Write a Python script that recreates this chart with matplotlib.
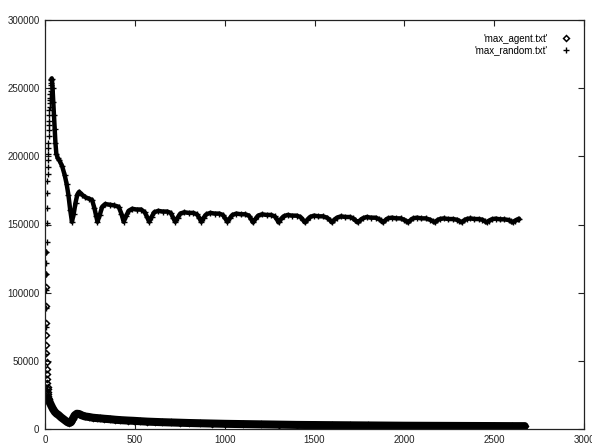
#!/usr/bin/env python3
"""
Max value per step: agent vs random (gnuplot-style point plot).
"""

import matplotlib
matplotlib.use("Agg")
import matplotlib.pyplot as plt

# ── Data (y values in thousands) ─────────────────────────────────────────────

# 'max_random.txt' : fast rise, peak ~257k, damped oscillation around ~154k
RANDOM_X = [
    1, 2, 3, 4, 5, 6, 7, 8, 9, 10, 11, 12, 13, 14, 15, 16, 17, 18, 19, 20,
    21, 22, 23, 24, 25, 26, 27, 28, 29, 30, 31, 32, 33, 34, 35, 36,
    38, 42, 46, 50, 54, 58, 63, 70, 80, 95, 110, 120, 130, 140, 150,
    160, 170, 180, 190, 205, 225, 243, 262, 275, 285, 292,
    305, 318, 335, 360, 385, 410, 425, 438,
    451, 465, 485, 510, 535, 555, 568, 580,
    593, 608, 630, 655, 680, 700, 713, 725,
    738, 753, 775, 800, 825, 845, 858, 870,
    883, 898, 920, 945, 970, 990, 1003, 1015,
    1028, 1043, 1065, 1090, 1115, 1135, 1147, 1158,
    1171, 1186, 1208, 1233, 1258, 1278, 1290, 1300,
    1313, 1328, 1350, 1375, 1400, 1422, 1435, 1447,
    1460, 1475, 1497, 1522, 1547, 1570, 1584, 1597,
    1610, 1625, 1647, 1672, 1697, 1715, 1728, 1740,
    1753, 1768, 1790, 1815, 1840, 1858, 1870, 1880,
    1893, 1908, 1930, 1955, 1980, 1998, 2010, 2020,
    2033, 2048, 2070, 2095, 2120, 2143, 2157, 2169,
    2182, 2197, 2220, 2245, 2270, 2293, 2307, 2319,
    2332, 2347, 2368, 2390, 2413, 2435, 2447, 2458,
    2471, 2486, 2508, 2532, 2557, 2580, 2592, 2603,
    2616, 2630, 2640,
]
RANDOM_Y = [
    30, 55, 75, 89, 102, 114, 122, 130, 137, 151, 162, 173, 182, 187, 192, 197, 202, 206, 210, 215,
    219, 223, 226, 230, 234, 236, 239, 241, 243, 246, 248, 250, 252, 254, 256, 257,
    257, 250, 240, 230, 220, 210, 202, 199, 197, 193, 186, 180, 172, 161, 152,
    158, 166, 172, 174, 172, 170, 169, 168, 162, 156, 152,
    157, 163, 165, 164.5, 164, 163, 158, 152,
    156, 160, 161.5, 161, 161, 159, 155.5, 152,
    155.5, 159, 160, 159.5, 159.5, 158.5, 155, 152,
    155, 158, 159, 158.5, 158.5, 157.5, 155, 152,
    155, 157.5, 158.5, 158, 158, 157, 154.5, 152,
    154.5, 157, 158, 157.5, 157.5, 156.5, 154, 151.5,
    154, 156.5, 157.5, 157, 157, 156, 154, 151.5,
    154, 156, 157, 156.5, 156.5, 155.5, 153.5, 151.5,
    153.5, 155.5, 156.5, 156, 156, 155, 153.5, 151.5,
    153.5, 155, 156, 155.5, 155.5, 154.5, 153, 151.5,
    153, 154.5, 155.5, 155, 155, 154, 153, 151.5,
    153, 154.5, 155, 154.5, 154.5, 153.5, 152.5, 151.5,
    153, 154.5, 155, 154.5, 154.5, 153.5, 152.5, 151.5,
    153, 154, 154.5, 154, 154, 153.5, 152.5, 151.5,
    153, 154, 154.5, 154, 154, 153.5, 152.5, 151.5,
    152.8, 153.8, 154.3, 153.8, 153.8, 153.3, 152.5, 151.5,
    152.8, 153.8, 154,
]

# 'max_agent.txt' : starts high, collapses quickly, small bump, slow decay
AGENT_X = [
    1, 2, 3, 4, 5, 6, 7, 8, 9, 10, 11, 12, 13, 14, 15, 16, 17, 18, 19, 20,
    25, 30, 38, 45, 55, 65, 75, 90, 100, 112, 125, 135, 145, 155, 165, 177,
    190, 205, 223, 245, 265, 288, 308, 330, 360, 390, 420, 460, 493, 530,
    570, 610, 650, 700, 750, 800, 864, 930, 1000, 1100, 1200, 1300, 1400,
    1500, 1600, 1700, 1800, 1900, 2000, 2100, 2200, 2300, 2400, 2500, 2600, 2670,
]
AGENT_Y = [
    130, 114, 104, 90, 78, 69, 61.5, 55.7, 49, 44, 40, 36.5, 33.5, 31, 29, 27, 25.5, 24, 23, 22,
    20, 18.5, 16.3, 14.5, 12.5, 11.2, 10.3, 8.5, 7.5, 6.3, 5, 4.5, 5, 7.5, 10, 11.2,
    11, 10, 9.2, 8.8, 8.3, 8, 7.8, 7.5, 7.2, 6.8, 6.5, 6.2, 6, 5.7,
    5.4, 5.2, 5, 4.8, 4.6, 4.4, 4.2, 4, 3.8, 3.6, 3.4, 3.2, 3.0,
    2.9, 2.8, 2.7, 2.6, 2.5, 2.4, 2.35, 2.3, 2.25, 2.2, 2.15, 2.1, 2.1,
]

X_TICKS = [0, 500, 1000, 1500, 2000, 2500, 3000]
Y_TICKS = [0, 50000, 100000, 150000, 200000, 250000, 300000]

# ── Plot ──────────────────────────────────────────────────────────────────────

plt.rcParams["font.family"] = ["Liberation Sans", "DejaVu Sans"]

fig = plt.figure(figsize=(5.92, 4.47), dpi=100)
ax = fig.add_axes([45 / 592, 18 / 447, 539 / 592, 409 / 447])

rnd_y = [v * 1000 for v in RANDOM_Y]
agt_y = [v * 1000 for v in AGENT_Y]

# dense points in the original merge into a thick band; a fat line fills the gaps
n_r = RANDOM_X.index(36)
n_a = AGENT_X.index(20)
ax.plot(RANDOM_X[n_r:], rnd_y[n_r:], "-", color="black", lw=3.2,
        solid_capstyle="round", solid_joinstyle="round", label="_nolegend_")
ax.plot(AGENT_X[n_a:], agt_y[n_a:], "-", color="black", lw=5.8,
        solid_capstyle="round", solid_joinstyle="round", label="_nolegend_")

ax.plot(AGENT_X, agt_y, linestyle="none", marker="D", ms=3.0, mfc="none",
        mec="black", mew=1.1, label="'max_agent.txt'")
ax.plot(RANDOM_X, rnd_y, linestyle="none", marker="+", ms=4.5, mec="black",
        mew=1.0, label="'max_random.txt'")

ax.set_xlim(0, 3000)
ax.set_ylim(0, 300000)
ax.set_xticks(X_TICKS)
ax.set_yticks(Y_TICKS)
ax.tick_params(direction="in", top=True, right=True, length=4, width=0.8,
               labelsize=7, colors="#222222", pad=4)
for s in ax.spines.values():
    s.set_linewidth(0.9)
    s.set_color("#222222")

ax.legend(loc="upper right", frameon=False, markerfirst=False, fontsize=7,
          handlelength=1.0, handletextpad=1.3, borderaxespad=1.1,
          labelspacing=0.15, borderpad=0.3)

fig.savefig("out.png", dpi=100)
